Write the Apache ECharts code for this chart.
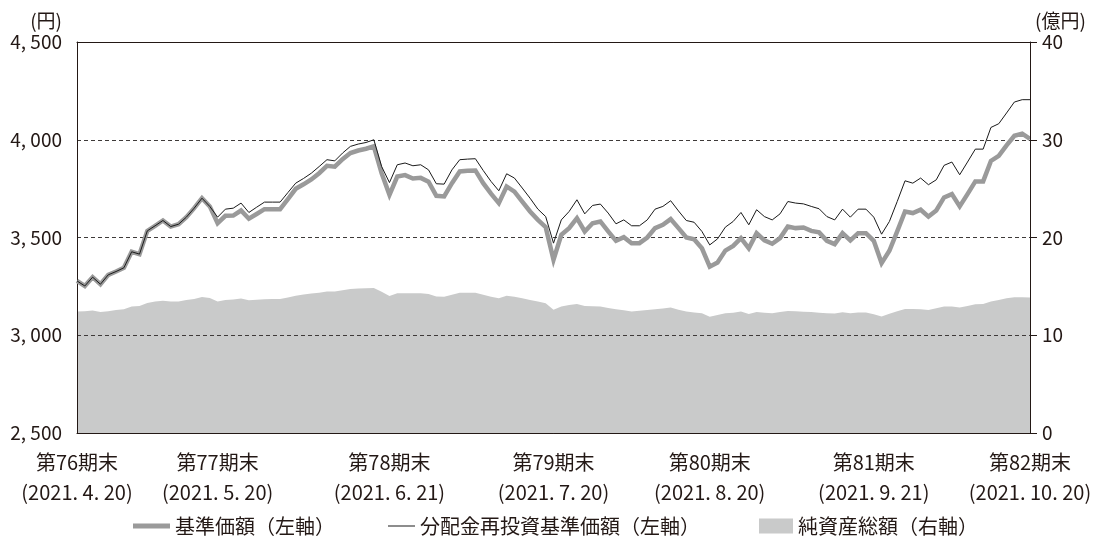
<!DOCTYPE html>
<html>
<head>
<meta charset="utf-8">
<script src="https://cdn.jsdelivr.net/npm/echarts@6/dist/echarts.min.js"></script>
<style>
  html, body { margin: 0; padding: 0; background: #ffffff; }
  #chart { width: 1096px; height: 540px; }
</style>
</head>
<body>
<div id="chart"></div>
<script>
// Business days from 2021/4/20 to 2021/10/20
const tradingDays = [
  '4/20','4/21','4/22','4/23','4/26','4/27','4/28','4/30',
  '5/6','5/7','5/10','5/11','5/12','5/13','5/14','5/17','5/18','5/19','5/20','5/21','5/24','5/25','5/26','5/27','5/28','5/31',
  '6/1','6/2','6/3','6/4','6/7','6/8','6/9','6/10','6/11','6/14','6/15','6/16','6/17','6/18','6/21','6/22','6/23','6/24','6/25','6/28','6/29','6/30',
  '7/1','7/2','7/5','7/6','7/7','7/8','7/9','7/12','7/13','7/14','7/15','7/16','7/19','7/20','7/21','7/26','7/27','7/28','7/29','7/30',
  '8/2','8/3','8/4','8/5','8/6','8/10','8/11','8/12','8/13','8/16','8/17','8/18','8/19','8/20','8/23','8/24','8/25','8/26','8/27','8/30','8/31',
  '9/1','9/2','9/3','9/6','9/7','9/8','9/9','9/10','9/13','9/14','9/15','9/16','9/17','9/21','9/22','9/24','9/27','9/28','9/29','9/30',
  '10/1','10/4','10/5','10/6','10/7','10/8','10/11','10/12','10/13','10/14','10/15','10/18','10/19','10/20'
];

// Period-end dates and their axis labels
const periodEndDates = ['4/20', '5/20', '6/21', '7/20', '8/20', '9/21', '10/20'];
const periodNames = ['第76期末', '第77期末', '第78期末', '第79期末', '第80期末', '第81期末', '第82期末'];
const periodDateLabels = ['(2021. 4. 20)', '(2021. 5. 20)', '(2021. 6. 21)', '(2021. 7. 20)', '(2021. 8. 20)', '(2021. 9. 21)', '(2021. 10. 20)'];

// 基準価額 (円)
const navPrice = [
  3278, 3252, 3297, 3261, 3309, 3326, 3345, 3427, 3415, 3534,
  3560, 3587, 3556, 3568, 3604, 3650, 3701, 3659, 3573, 3611,
  3612, 3638, 3596, 3620, 3645, 3645, 3645, 3696, 3749, 3772,
  3797, 3829, 3867, 3862, 3901, 3932, 3945, 3954, 3966, 3829,
  3718, 3812, 3819, 3802, 3805, 3785, 3713, 3710, 3778, 3838,
  3841, 3843, 3778, 3724, 3676, 3761, 3735, 3684, 3633, 3590,
  3553, 3386, 3514, 3548, 3599, 3531, 3573, 3582, 3531, 3483,
  3502, 3471, 3471, 3500, 3548, 3565, 3594, 3548, 3500, 3491,
  3445, 3351, 3372, 3433, 3457, 3497, 3445, 3522, 3485, 3468,
  3497, 3556, 3548, 3551, 3534, 3526, 3483, 3466, 3522, 3485,
  3522, 3522, 3483, 3369, 3432, 3531, 3633, 3625, 3642, 3607,
  3638, 3705, 3722, 3659, 3722, 3787, 3787, 3892, 3918, 3971,
  4020, 4031, 4005
];

// 分配金再投資基準価額 (円)
const reinvestedPrice = [
  3278, 3252, 3297, 3261, 3309, 3326, 3345, 3427, 3415, 3534,
  3560, 3587, 3556, 3568, 3604, 3650, 3701, 3659, 3604, 3645,
  3650, 3676, 3628, 3655, 3681, 3681, 3681, 3730, 3778, 3802,
  3829, 3863, 3898, 3892, 3932, 3966, 3978, 3986, 4000, 3863,
  3781, 3872, 3881, 3867, 3872, 3846, 3775, 3773, 3846, 3898,
  3901, 3903, 3843, 3787, 3739, 3826, 3804, 3753, 3701, 3645,
  3607, 3471, 3590, 3633, 3693, 3621, 3664, 3671, 3625, 3570,
  3590, 3560, 3560, 3590, 3645, 3659, 3688, 3636, 3587, 3578,
  3531, 3462, 3493, 3553, 3582, 3628, 3565, 3642, 3607, 3590,
  3621, 3684, 3676, 3672, 3659, 3647, 3607, 3590, 3645, 3604,
  3645, 3645, 3604, 3517, 3582, 3684, 3790, 3778, 3804, 3770,
  3795, 3869, 3886, 3821, 3886, 3952, 3952, 4063, 4082, 4137,
  4193, 4205, 4205
];

// 純資産総額 (億円)
const netAssets = [
  12.42, 12.45, 12.52, 12.38, 12.45, 12.59, 12.66, 12.93, 13.00, 13.30,
  13.45, 13.54, 13.45, 13.45, 13.60, 13.72, 13.92, 13.80, 13.44, 13.61,
  13.65, 13.75, 13.58, 13.62, 13.68, 13.72, 13.72, 13.85, 14.05, 14.16,
  14.26, 14.34, 14.47, 14.47, 14.60, 14.74, 14.78, 14.82, 14.84, 14.45,
  14.02, 14.30, 14.30, 14.30, 14.30, 14.23, 13.97, 13.95, 14.15, 14.36,
  14.36, 14.36, 14.15, 13.95, 13.78, 14.05, 13.95, 13.78, 13.60, 13.45,
  13.27, 12.62, 12.93, 13.10, 13.20, 13.00, 12.97, 12.93, 12.80, 12.66,
  12.55, 12.42, 12.50, 12.59, 12.66, 12.73, 12.83, 12.62, 12.42, 12.33,
  12.25, 11.90, 12.08, 12.25, 12.30, 12.42, 12.18, 12.38, 12.30, 12.25,
  12.38, 12.49, 12.45, 12.40, 12.38, 12.30, 12.25, 12.22, 12.35, 12.25,
  12.32, 12.32, 12.15, 11.92, 12.20, 12.45, 12.69, 12.68, 12.66, 12.59,
  12.76, 12.93, 12.93, 12.85, 13.00, 13.17, 13.20, 13.45, 13.61, 13.78,
  13.89, 13.89, 13.85
];

const seriesNames = ['基準価額（左軸）', '分配金再投資基準価額（左軸）', '純資産総額（右軸）'];

const FONT = '"Noto Sans CJK JP", "Noto Sans", sans-serif';
const INK = '#231815';
const FS = 19;      // tick labels and axis names
const FS_TEXT = 20; // category labels and legend

function yenLabel(v) {
  const th = Math.floor(v / 1000);
  const rest = String(v % 1000).padStart(3, '0');
  return th + ', ' + rest;
}

const chart = echarts.init(document.getElementById('chart'), null, { renderer: 'canvas' });

const legendText = { fontFamily: FONT, fontSize: FS_TEXT, color: INK };

const option = {
  animation: false,
  backgroundColor: '#ffffff',
  textStyle: { fontFamily: FONT, color: INK },
  grid: { left: 77, right: 66, top: 42, bottom: 107 },
  xAxis: [
    {
      type: 'category',
      data: tradingDays,
      boundaryGap: false,
      z: 5,
      axisLine: { show: true, lineStyle: { color: INK, width: 1 } },
      axisTick: { show: false },
      splitLine: { show: false },
      axisLabel: {
        interval: (i, v) => periodEndDates.includes(v),
        formatter: (v) => {
          const k = periodEndDates.indexOf(v);
          return periodNames[k] + '\n' + periodDateLabels[k];
        },
        fontFamily: FONT,
        fontSize: FS_TEXT,
        color: INK,
        lineHeight: 30,
        margin: 14
      }
    },
    {
      type: 'category',
      data: tradingDays,
      boundaryGap: false,
      position: 'top',
      z: 5,
      axisLine: { show: true, lineStyle: { color: INK, width: 1 } },
      axisTick: { show: false },
      axisLabel: { show: false },
      splitLine: { show: false }
    }
  ],
  yAxis: [
    {
      type: 'value',
      position: 'left',
      min: 2500,
      max: 4500,
      interval: 500,
      z: 2,
      name: '(円)',
      nameLocation: 'end',
      nameGap: 12,
      nameTextStyle: { fontFamily: FONT, fontSize: FS, color: INK, align: 'right', padding: [0, 15, 0, 0] },
      axisLine: { show: true, lineStyle: { color: INK, width: 1 } },
      axisTick: { show: false },
      axisLabel: { formatter: yenLabel, fontFamily: FONT, fontSize: FS, color: INK, margin: 15 },
      splitLine: { show: true, lineStyle: { color: '#3e3a39', width: 1, type: [4, 3] } }
    },
    {
      type: 'value',
      position: 'right',
      min: 0,
      max: 40,
      interval: 10,
      z: 5,
      name: '(億円)',
      nameLocation: 'end',
      nameGap: 12,
      nameTextStyle: { fontFamily: FONT, fontSize: FS, color: INK, align: 'left', padding: [0, 0, 0, 5] },
      axisLine: { show: true, lineStyle: { color: INK, width: 1 } },
      axisTick: { show: true, inside: false, length: 7, lineStyle: { color: INK, width: 1 } },
      axisLabel: { fontFamily: FONT, fontSize: FS, color: INK, margin: 12 },
      splitLine: { show: false }
    }
  ],
  legend: [
    {
      data: [seriesNames[0]],
      left: 128, top: 511,
      icon: 'rect', itemWidth: 37, itemHeight: 5,
      textStyle: legendText,
      selectedMode: false
    },
    {
      data: [seriesNames[1]],
      left: 383, top: 511,
      icon: 'rect', itemWidth: 27, itemHeight: 1,
      textStyle: legendText,
      selectedMode: false
    },
    {
      data: [seriesNames[2]],
      left: 754, top: 511,
      icon: 'rect', itemWidth: 34, itemHeight: 15,
      textStyle: legendText,
      selectedMode: false
    }
  ],
  series: [
    {
      name: seriesNames[2],
      type: 'line',
      xAxisIndex: 0,
      yAxisIndex: 1,
      data: netAssets,
      z: 1,
      showSymbol: false,
      symbol: 'none',
      lineStyle: { width: 0, color: '#c9caca' },
      itemStyle: { color: '#c9caca' },
      areaStyle: { color: '#c9caca', opacity: 1 }
    },
    {
      name: seriesNames[0],
      type: 'line',
      xAxisIndex: 0,
      yAxisIndex: 0,
      data: navPrice,
      z: 3,
      showSymbol: false,
      symbol: 'none',
      lineStyle: { width: 4.5, color: '#9a9a9a', join: 'miter' },
      itemStyle: { color: '#9a9a9a' }
    },
    {
      name: seriesNames[1],
      type: 'line',
      xAxisIndex: 0,
      yAxisIndex: 0,
      data: reinvestedPrice,
      z: 4,
      showSymbol: false,
      symbol: 'none',
      lineStyle: { width: 1, color: '#1a1a1a' },
      itemStyle: { color: '#1a1a1a' }
    }
  ]
};

chart.setOption(option);
</script>
</body>
</html>
